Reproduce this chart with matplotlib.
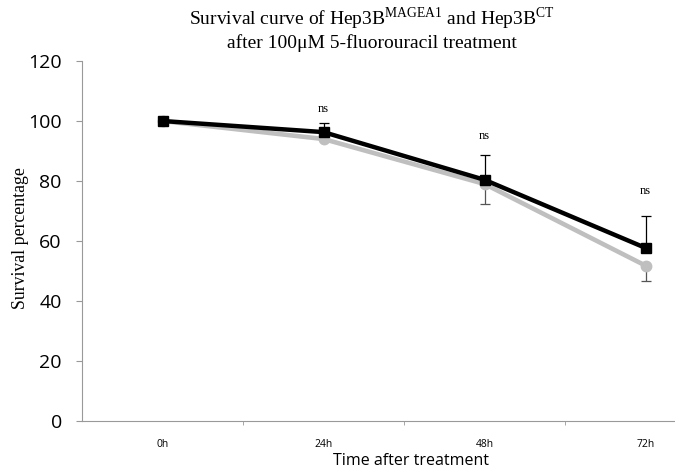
import numpy as np
import matplotlib
matplotlib.use("Agg")
from matplotlib import pyplot as plt

# data
times = ["0h", "24h", "48h", "72h"]
magea1 = [100, 96.3, 80.4, 57.7]
magea1_err_up = [0, 3.0, 8.3, 10.5]
ct = [100, 94.0, 79.0, 51.8]
ct_err_down = [0, 0, 6.7, 5.0]
ns_labels = ["", "ns", "ns", "ns"]
ns_y = [0, 102.0, 93.0, 74.5]
yticks = [0, 20, 40, 60, 80, 100, 120]

plt.rcParams["mathtext.fontset"] = "custom"
plt.rcParams["mathtext.rm"] = "Liberation Serif"

fig = plt.figure(figsize=(6.75, 4.72), dpi=100)
ax = fig.add_axes([82 / 675, 51 / 472, 644 / 675, 360 / 472])

x = np.arange(len(times))

# error bars (black up, grey down)
ax.errorbar(x, magea1, yerr=[np.zeros(4), magea1_err_up], fmt="none",
            ecolor="black", elinewidth=0.9, capsize=3.5, capthick=0.9, zorder=2)
ax.errorbar(x, ct, yerr=[ct_err_down, np.zeros(4)], fmt="none",
            ecolor="#555555", elinewidth=0.9, capsize=3.5, capthick=0.9, zorder=2)

ax.plot(x, ct, color="#BFBFBF", lw=3.3, marker="o", markersize=7.5,
        markerfacecolor="#BFBFBF", markeredgecolor="#BFBFBF", zorder=3)
ax.plot(x, magea1, color="black", lw=3.2, marker="s", markersize=7.5,
        markerfacecolor="black", markeredgecolor="black", zorder=4)

for xi, lab, yi in zip(x, ns_labels, ns_y):
    if lab:
        ax.text(xi, yi, lab, ha="center", va="bottom", fontsize=9,
                family="Liberation Serif")

ax.set_xlim(-0.5, 3.5)
ax.set_ylim(0, 120)
ax.set_yticks(yticks)
ax.set_yticklabels([str(v) for v in yticks], fontsize=14, family="Open Sans")
ax.set_xticks(x)
ax.set_xticklabels(times, fontsize=7.5, family="Open Sans")
ax.set_xticks([0.5, 1.5, 2.5], minor=True)
ax.tick_params(axis="x", which="major", length=0, pad=13)
ax.tick_params(axis="x", which="minor", length=3, color="#999999", direction="out")
ax.tick_params(axis="y", length=4.5, color="#999999", direction="out", pad=10)

for s in ["top", "right"]:
    ax.spines[s].set_visible(False)
for s in ["left", "bottom"]:
    ax.spines[s].set_color("#999999")
    ax.spines[s].set_linewidth(0.8)

ax.set_ylabel("Survival percentage", fontsize=12.8, family="Liberation Serif", labelpad=0)
ax.yaxis.set_label_coords(-0.082, 0.508)
fig.text(411 / 675, 1 - 461 / 472, "Time after treatment", fontsize=11.5,
         family="Open Sans", ha="center", va="center")

fig.text(372 / 675, 1 - 19 / 472,
         "Survival curve of Hep3B$^{\\mathrm{MAGEA1}}$ and Hep3B$^{\\mathrm{CT}}$",
         fontsize=14, family="Liberation Serif", ha="center", va="center")
fig.text(372 / 675, 1 - 43 / 472, "after 100\u03bcM 5-fluorouracil treatment",
         fontsize=14, family="Liberation Serif", ha="center", va="center")

fig.savefig("out.png", dpi=100)
